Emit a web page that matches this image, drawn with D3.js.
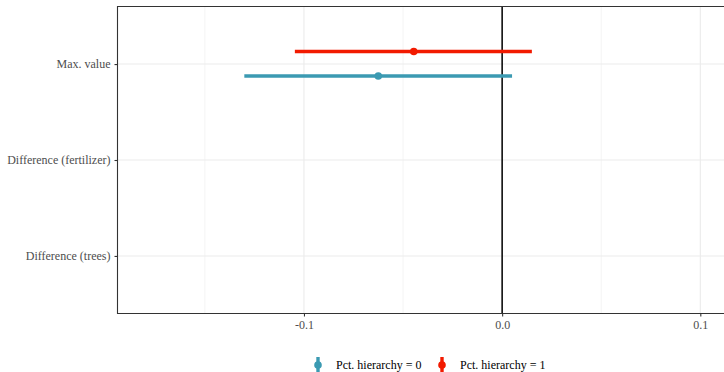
<!DOCTYPE html>
<html><head><meta charset="utf-8">
<script src="https://cdn.jsdelivr.net/npm/d3@7"></script>
<style>body{margin:0;background:#fff}svg{display:block}
text{font-family:"Liberation Serif","DejaVu Serif",serif}</style>
</head><body>
<svg id="c" width="724" height="372"></svg>
<script>
const categories = ["Max. value", "Difference (fertilizer)", "Difference (trees)"];
const seriesNames = ["Pct. hierarchy = 0", "Pct. hierarchy = 1"];
const seriesColors = ["#3B9AB2", "#F21A00"];
// estimates per series, only Max. value has data
const estimate0 = [-0.0625, null, null];
const lower0 = [-0.1301, null, null];
const upper0 = [0.0050, null, null];
const estimate1 = [-0.0446, null, null];
const lower1 = [-0.1046, null, null];
const upper1 = [0.0150, null, null];
const xTicks = [-0.1, 0.0, 0.1];
const xTickLabels = ["-0.1", "0.0", "0.1"];
const xMinor = [-0.15, -0.05, 0.05];
const xDomain = [-0.1941, 0.1170];

const svg = d3.select("#c");
const L = 117.5, R = 734, T = 6.5, B = 313.5;
const x = d3.scaleLinear().domain(xDomain).range([L, R]);
const y = d3.scalePoint().domain(categories).range([T, B]).padding(0.6);
const dodge = [12, -12.5];
const font = "Liberation Serif";

const g = svg.append("g");
g.selectAll("line.minor").data(xMinor).join("line")
  .attr("x1", d => x(d)).attr("x2", d => x(d)).attr("y1", T).attr("y2", B)
  .attr("stroke", "#EBEBEB").attr("stroke-width", 0.6);
g.selectAll("line.majx").data(xTicks).join("line")
  .attr("x1", d => x(d)).attr("x2", d => x(d)).attr("y1", T).attr("y2", B)
  .attr("stroke", "#EBEBEB").attr("stroke-width", 1.1);
g.selectAll("line.majy").data(categories).join("line")
  .attr("x1", L).attr("x2", R).attr("y1", d => y(d)).attr("y2", d => y(d))
  .attr("stroke", "#EBEBEB").attr("stroke-width", 1.1);

g.append("line").attr("x1", x(0)).attr("x2", x(0)).attr("y1", T).attr("y2", B)
  .attr("stroke", "#000").attr("stroke-width", 1.5);

const series = [
  {name: seriesNames[0], color: seriesColors[0], est: estimate0, lo: lower0, hi: upper0, dy: dodge[0]},
  {name: seriesNames[1], color: seriesColors[1], est: estimate1, lo: lower1, hi: upper1, dy: dodge[1]}
];
series.forEach(s => {
  const pts = categories.map((c, i) => ({c, e: s.est[i], lo: s.lo[i], hi: s.hi[i]})).filter(d => d.e != null);
  g.selectAll(null).data(pts).join("line")
    .attr("x1", d => x(d.lo)).attr("x2", d => x(d.hi))
    .attr("y1", d => y(d.c) + s.dy).attr("y2", d => y(d.c) + s.dy)
    .attr("stroke", s.color).attr("stroke-width", 3.6);
  g.selectAll(null).data(pts).join("circle")
    .attr("cx", d => x(d.e)).attr("cy", d => y(d.c) + s.dy).attr("r", 3.8)
    .attr("fill", s.color);
});

svg.append("path").attr("d", `M${R},${T}H${L}V${B}H${R}`)
  .attr("fill", "none").attr("stroke", "#333").attr("stroke-width", 1.1);

const xa = svg.append("g").attr("transform", `translate(0,${B})`)
  .call(d3.axisBottom(x).tickValues(xTicks).tickFormat((d, i) => xTickLabels[i]).tickSize(3).tickPadding(4));
xa.attr("font-family", font).attr("font-size", 12);
xa.select(".domain").remove();
xa.selectAll("line").attr("stroke", "#333").attr("stroke-width", 1.1);
xa.selectAll("text").attr("fill", "#4D4D4D");

const ya = svg.append("g").attr("transform", `translate(${L},0)`)
  .call(d3.axisLeft(y).tickSize(3).tickPadding(4));
ya.attr("font-family", font).attr("font-size", 12);
ya.select(".domain").remove();
ya.selectAll("line").attr("stroke", "#333").attr("stroke-width", 1.1);
ya.selectAll("text").attr("fill", "#4D4D4D");

const leg = svg.append("g").attr("font-family", font).attr("font-size", 12);
const legX = [318, 442];
series.forEach((s, i) => {
  const lg = leg.append("g").attr("transform", `translate(${legX[i]},365)`);
  lg.append("line").attr("x1", 0).attr("x2", 0).attr("y1", -8).attr("y2", 7)
    .attr("stroke", s.color).attr("stroke-width", 3.4);
  lg.append("circle").attr("r", 3.8).attr("fill", s.color);
  lg.append("text").attr("x", 18).attr("y", 4).text(s.name).attr("fill", "#000");
});
</script>
</body></html>
